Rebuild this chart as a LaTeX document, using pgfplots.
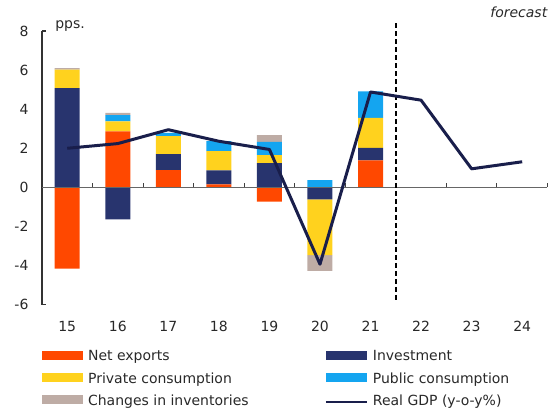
\documentclass[border=0pt]{standalone}
\usepackage{pgfplots}
\usepackage{pgfplotstable}
\pgfplotsset{compat=1.18}
\usepackage{fontspec}
\setmainfont{DejaVu Sans}
\newcommand\fs{\fontsize{14pt}{17pt}\selectfont}
\definecolor{cNX}{RGB}{255,72,0}
\definecolor{cINV}{RGB}{40,52,110}
\definecolor{cPC}{RGB}{255,210,30}
\definecolor{cPUB}{RGB}{20,165,240}
\definecolor{cINVT}{RGB}{190,172,165}
\definecolor{cGDP}{RGB}{25,30,75}
\definecolor{txt}{RGB}{40,40,40}
\pgfplotsset{
  barleg/.style={legend image code/.code={\fill[##1] (0pt,-2.5pt) rectangle (41pt,6.5pt);}},
  lineleg/.style={legend image code/.code={\draw[##1] (0pt,0pt) -- (41pt,0pt);}},
}
\pgfplotstableread{
x nx inv pc pub invt
15 -4.15 5.08 0.94 0 0.08
16 2.86 -1.63 0.51 0.32 0.12
17 0.88 0.82 0.92 0.17 0
18 0.15 0.72 0.98 0.51 0
19 -0.73 1.24 0.41 0.68 0.34
20 0 -0.61 -2.86 0.37 -0.80
21 1.38 0.64 1.53 1.36 0
}\bars
\pgfplotstableread{
x gdp
15 2.00
16 2.24
17 2.95
18 2.36
19 1.94
20 -3.93
21 4.88
22 4.46
23 0.95
24 1.31
}\gdp
\begin{document}
\begin{tikzpicture}
\begin{axis}[
  at={(0,0)}, anchor=south west,
  width=506pt, height=274pt, scale only axis,
  xmin=14.5, xmax=24.5, ymin=-6, ymax=8,
  ybar stacked, bar width=25pt,
  axis x line*=bottom, axis y line*=left,
  x axis line style={draw=none},
  y axis line style={draw=black!80, line width=1.3pt, -},
  xtick={15,...,24},
  xticklabels={15,16,17,18,19,20,21,22,23,24},
  ytick={-6,-4,...,8},
  yticklabels={-6,-4,-2,0,2,4,6,8},
  major tick length=0pt,
  tick style={draw=black!80, line width=1.3pt},
  extra y ticks={-6,8}, extra y tick labels={},
  extra y tick style={major tick length=4pt, tick align=inside},
  tick label style={font=\fs, text=txt},
  yticklabel style={xshift=-10pt},
  xticklabel style={yshift=-13pt},
  clip=false,
  legend columns=2,
  legend cell align=left,
  legend style={at={(0,-0.164)}, anchor=north west, draw=none, fill=none,
    inner sep=0pt, font=\fs, row sep=8pt,
    nodes={inner sep=0pt, text height=11pt, text depth=3.5pt, text=txt},
    /tikz/every odd column/.append style={column sep=5pt},
    /tikz/column 2/.style={column sep=76pt}},
]
\addplot[fill=cNX, draw=none, barleg] table[x=x,y=nx]{\bars};
\addlegendentry{Net exports}
\addplot[fill=cINV, draw=none, barleg] table[x=x,y=inv]{\bars};
\addlegendentry{Investment}
\addplot[fill=cPC, draw=none, barleg] table[x=x,y=pc]{\bars};
\addlegendentry{Private consumption}
\addplot[fill=cPUB, draw=none, barleg] table[x=x,y=pub]{\bars};
\addlegendentry{Public consumption}
\addplot[fill=cINVT, draw=none, barleg] table[x=x,y=invt]{\bars};
\addlegendentry{Changes in inventories}
\addlegendimage{draw=cGDP, line width=2.4pt, lineleg}
\addlegendentry{Real GDP (y-o-y\%)}
\end{axis}
\begin{axis}[
  at={(0,0)}, anchor=south west,
  width=506pt, height=274pt, scale only axis,
  xmin=14.5, xmax=24.5, ymin=-6, ymax=8,
  hide axis, clip=false,
]
\draw[black!60, line width=0.9pt] (axis cs:14.5,0) -- (axis cs:24.5,0);
\pgfplotsinvokeforeach{15.5,16.5,17.5,18.5,19.5,20.5,22.5,23.5,24.5}{
  \draw[black!75, line width=1.1pt] (axis cs:#1,0) -- (axis cs:#1,0.22);
}
\draw[black, line width=1.4pt, dash pattern=on 5pt off 3pt] (axis cs:21.5,8.4) -- (axis cs:21.5,-5.8);
\addplot[draw=cGDP, line width=3pt, line join=round] table[x=x,y=gdp]{\gdp};
\node[anchor=base west, font=\fs, text=txt, inner sep=0pt] at (axis cs:14.76,8.11) {pps.};
\node[anchor=base east, font=\fs\itshape, text=txt, inner sep=0pt] at (axis cs:24.5,8.67) {forecast};
\end{axis}
\path[use as bounding box] (-42pt,-107pt) rectangle (506pt,305pt);
\end{tikzpicture}
\end{document}
